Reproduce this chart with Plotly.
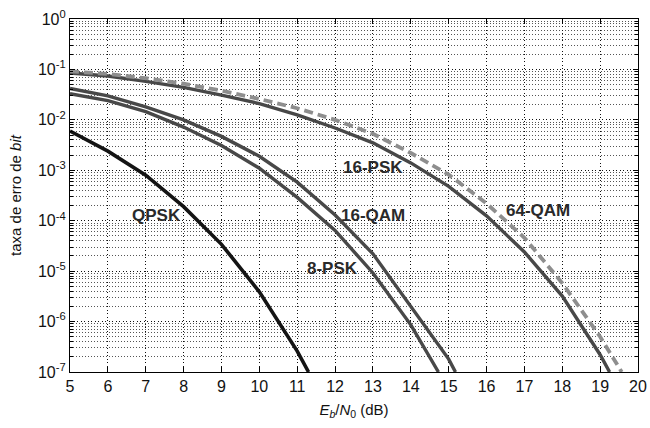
import plotly.graph_objects as go

# ---- data ----
x_qpsk = [5, 6, 7, 8, 9, 10, 11, 11.3]
ber_qpsk = [6.0e-3, 2.4e-3, 8.0e-4, 1.9e-4, 3.4e-5, 3.9e-6, 2.6e-7, 1.0e-7]

x_8psk = [5, 6, 7, 8, 9, 10, 11, 12, 13, 14, 14.73]
ber_8psk = [3.3e-2, 2.4e-2, 1.45e-2, 7.2e-3, 3.1e-3, 1.1e-3, 2.9e-4, 6.4e-5, 9.2e-6, 8.6e-7, 1.0e-7]

x_16qam = [5, 6, 7, 8, 9, 10, 11, 12, 13, 14, 15, 15.18]
ber_16qam = [4.2e-2, 3.0e-2, 1.8e-2, 1.0e-2, 4.7e-3, 1.9e-3, 5.8e-4, 1.3e-4, 2.2e-5, 2.0e-6, 1.8e-7, 1.0e-7]

x_16psk = [5, 6, 7, 8, 9, 10, 11, 12, 13, 14, 15, 16, 17, 18, 19, 19.25]
ber_16psk = [8.5e-2, 7.4e-2, 5.8e-2, 4.4e-2, 3.1e-2, 2.1e-2, 1.25e-2, 6.9e-3, 3.5e-3,
             1.4e-3, 4.8e-4, 1.25e-4, 2.4e-5, 3.2e-6, 2.2e-7, 1.0e-7]

x_64qam = [5, 6, 7, 8, 9, 10, 11, 12, 13, 14, 15, 16, 17, 18, 19, 19.57]
ber_64qam = [9.2e-2, 8.1e-2, 6.7e-2, 5.2e-2, 3.8e-2, 2.6e-2, 1.7e-2, 1.0e-2, 5.3e-3,
             2.2e-3, 8.2e-4, 2.2e-4, 4.6e-5, 5.8e-6, 5.0e-7, 1.0e-7]

x_ticks = list(range(5, 21))
y_exps = [0, -1, -2, -3, -4, -5, -6, -7]
y_tick_text = ["10<sup>%d</sup>" % e for e in y_exps]

labels = ["QPSK", "8-PSK", "16-QAM", "16-PSK", "64-QAM"]

FONT = "Liberation Sans, Arial, Helvetica, sans-serif"

fig = go.Figure()

series = [
    (x_qpsk, ber_qpsk, dict(color="#141414", width=3.6)),
    (x_8psk, ber_8psk, dict(color="#484848", width=3.4)),
    (x_16qam, ber_16qam, dict(color="#484848", width=3.4)),
    (x_16psk, ber_16psk, dict(color="#484848", width=3.4)),
    (x_64qam, ber_64qam, dict(color="#8e8e8e", width=3.8, dash="9px,5px")),
]
for (xs, ys, ln), name in zip(series, labels):
    fig.add_trace(go.Scatter(x=xs, y=ys, mode="lines", line=ln, name=name,
                             showlegend=False, hoverinfo="skip"))

# curve labels
label_pos = {
    "QPSK": (7.29, -3.89),
    "8-PSK": (11.93, -4.95),
    "16-QAM": (13.01, -3.89),
    "16-PSK": (13.0, -2.94),
    "64-QAM": (17.35, -3.80),
}
for name in labels:
    lx, ly = label_pos[name]
    fig.add_annotation(x=lx, y=ly, xref="x", yref="y", text="<b>%s</b>" % name,
                       showarrow=False, xanchor="center", yanchor="middle",
                       font=dict(family=FONT, size=17, color="#2a2a2a"))

minor_vals = [m * 10.0 ** e for e in range(-7, 0) for m in range(2, 10)]

fig.update_xaxes(
    range=[5, 20], tickmode="array", tickvals=x_ticks,
    ticks="inside", ticklen=5, tickcolor="black",
    showline=True, linecolor="black", linewidth=1.2, mirror="ticks",
    showgrid=True, gridcolor="#111", griddash="1px,2.5px", gridwidth=1,
    zeroline=False, automargin=False,
    tickfont=dict(family=FONT, size=16, color="#111"),
    title=dict(text="<i>E<sub>b</sub></i>/<i>N</i><sub>0</sub> (dB)",
               font=dict(family=FONT, size=15, color="#111"), standoff=10),
)
fig.update_yaxes(
    type="log", range=[-7, 0], tickmode="array",
    tickvals=[10.0 ** e for e in y_exps], ticktext=y_tick_text,
    ticks="inside", ticklen=5, tickcolor="black",
    showline=True, linecolor="black", linewidth=1.2, mirror="ticks",
    showgrid=True, gridcolor="#111", griddash="1px,2.5px", gridwidth=1,
    zeroline=False, automargin=False,
    minor=dict(tickmode="array", tickvals=minor_vals, ticks="inside", ticklen=3,
               tickcolor="black", showgrid=True, gridcolor="#555",
               griddash="1px,2px", gridwidth=1),
    tickfont=dict(family=FONT, size=16, color="#111"),
    title=dict(text="taxa de erro de <i>bit</i>",
               font=dict(family=FONT, size=15, color="#111"), standoff=12),
)

fig.update_layout(
    width=650, height=428,
    margin=dict(l=70, r=12, t=19, b=56),
    paper_bgcolor="white", plot_bgcolor="white",
    font=dict(family=FONT, size=15, color="#111"),
)

fig.write_html("out.html", config={"displayModeBar": False},
               post_script="document.body.style.margin='0';")
